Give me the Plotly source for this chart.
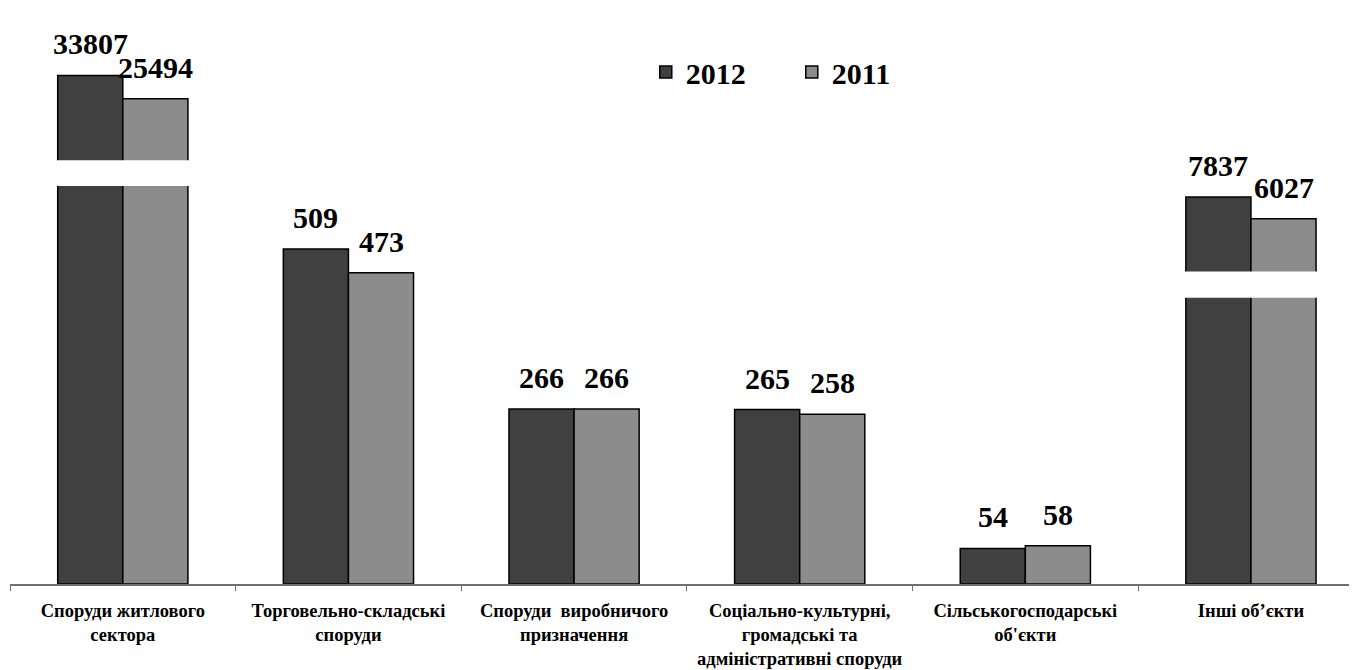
import numpy as np
import plotly.graph_objects as go

categories = [
    "Споруди житлового<br>сектора",
    "Торговельно-складські<br>споруди",
    "Споруди  виробничого<br>призначення",
    "Соціально-культурні,<br>громадські та<br>адміністративні споруди",
    "Сільськогосподарські<br>об'єкти",
    "Інші об’єкти",
]
values_2012 = [33807, 509, 266, 265, 54, 7837]
values_2011 = [25494, 473, 266, 258, 58, 6027]
series_names = ["2012", "2011"]

# broken value axis: values above BREAK_AT are drawn on a compressed log segment
BREAK_AT = 1000
BREAK_BASE = 328.0
BREAK_SCALE = 291.0


def shown(v):
    return v if v <= BREAK_AT else BREAK_BASE + BREAK_SCALE * np.log10(v / BREAK_AT)


# white break bands (in drawn units) for the categories with a broken axis
break_bands = {0: (605, 644), 5: (435, 475)}

FONT = "Liberation Serif"
colors = ["#404040", "#8c8c8c"]

fig = go.Figure()
for name, vals, col in zip(series_names, [values_2012, values_2011], colors):
    fig.add_trace(go.Bar(
        name=name,
        x=categories,
        y=[shown(v) for v in vals],
        marker=dict(color=col, line=dict(color="black", width=1.5)),
        hoverinfo="skip",
    ))

# data labels
offsets = [-32.7, 32.7]
for vals, dx in zip([values_2012, values_2011], offsets):
    for c, v in zip(categories, vals):
        fig.add_annotation(
            x=c, y=shown(v), text=f"<b>{v}</b>", showarrow=False,
            xshift=dx, yshift=13, yanchor="bottom",
            font=dict(family=FONT, size=30, color="black"),
        )

# break bands
for idx, (y0, y1) in break_bands.items():
    fig.add_shape(type="rect", xref="x", yref="y",
                  x0=idx - 0.30, x1=idx + 0.30, y0=y0, y1=y1,
                  fillcolor="white", line=dict(width=0), layer="above")

fig.update_layout(
    width=1357, height=670,
    margin=dict(l=2, r=8, t=2, b=94),
    paper_bgcolor="white", plot_bgcolor="white",
    barmode="group", bargap=0.423, bargroupgap=0,
    showlegend=True,
    legend=dict(orientation="h", x=0.472, xanchor="left", y=0.892, yanchor="middle",
                font=dict(family=FONT, size=30, color="black", weight="bold"),
                entrywidth=101, bgcolor="rgba(0,0,0,0)"),
    font=dict(family=FONT, color="black"),
)
fig.update_xaxes(
    type="category", range=[-0.5, 5.47],
    showline=True, linecolor="#707070", linewidth=1.5,
    ticks="outside", ticklen=5, tickcolor="#707070", tickson="boundaries",
    tickfont=dict(family=FONT, size=18.5, color="black", weight="bold"),
    ticklabelstandoff=9, showgrid=False,
)
fig.update_yaxes(visible=False, range=[0, 872.3])

fig.write_html("out.html")
